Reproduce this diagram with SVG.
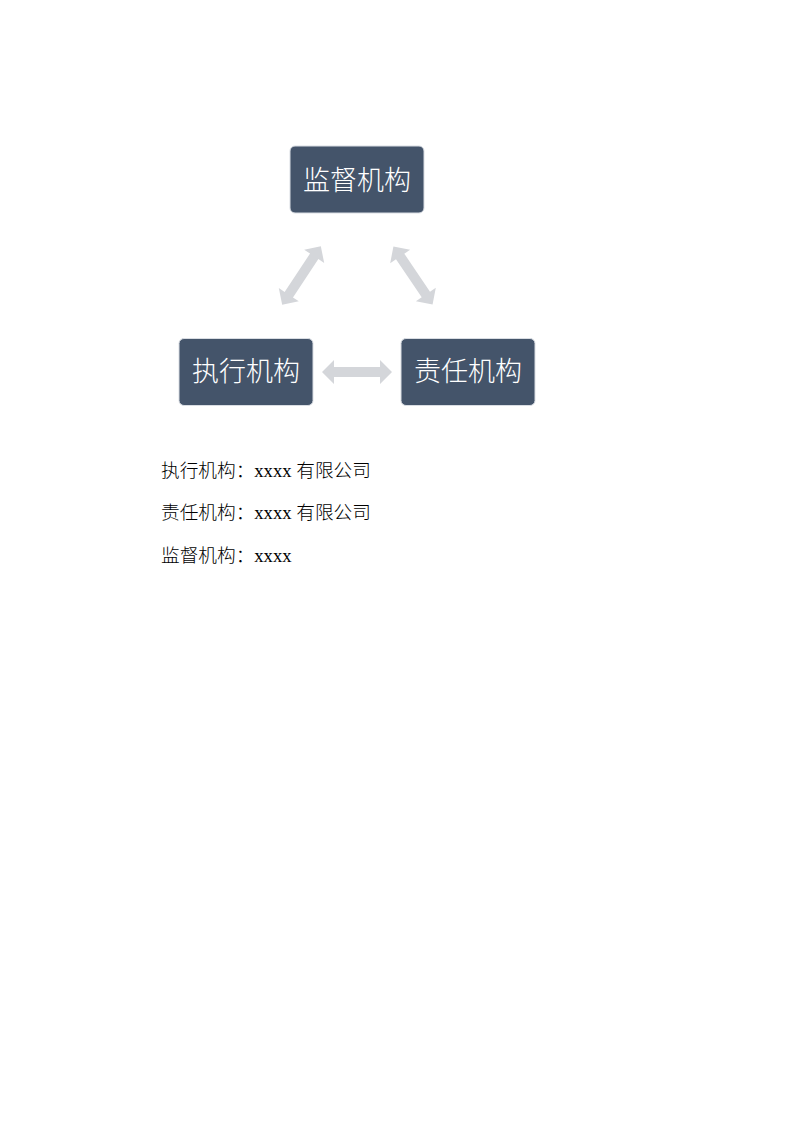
<svg xmlns="http://www.w3.org/2000/svg" width="793" height="1122" viewBox="0 0 793 1122">
<style>
.box{fill:#44546A;stroke:#D9DDE3;stroke-width:1}
.lbl{font-family:"Noto Sans CJK SC","Noto Sans",sans-serif;font-size:27px;font-weight:300;fill:#FFFFFF;text-anchor:middle}
.arr{fill:#D4D6DA}
.body{font-family:"Liberation Serif","Noto Sans CJK SC",serif;font-size:18.67px;font-weight:300;fill:#000000}
</style>
<defs>
<path id="dbl" d="M -35 0 L -23 -12 L -23 -5 L 23 -5 L 23 -12 L 35 0 L 23 12 L 23 5 L -23 5 L -23 12 Z"/>
</defs>
<rect width="793" height="1122" fill="#FFFFFF"/>
<g id="connectors">
<use href="#dbl" class="arr" transform="translate(357,372)"/>
<use href="#dbl" class="arr" transform="translate(301.5,275.5) rotate(-56.5)"/>
<use href="#dbl" class="arr" transform="translate(413,275.5) rotate(56)"/>
</g>
<g id="supervise">
<rect class="box" x="290" y="146" width="134" height="67" rx="5"/>
<text class="lbl" x="357" y="190">监督机构</text>
</g>
<g id="execute">
<rect class="box" x="179" y="338.5" width="134" height="67" rx="5"/>
<text class="lbl" x="246" y="381">执行机构</text>
</g>
<g id="responsible">
<rect class="box" x="401" y="338.5" width="134" height="67" rx="5"/>
<text class="lbl" x="468" y="381">责任机构</text>
</g>
<g id="notes">
<text class="body" x="161" y="477">执行机构：xxxx 有限公司</text>
<text class="body" x="161" y="519">责任机构：xxxx 有限公司</text>
<text class="body" x="161" y="562">监督机构：xxxx</text>
</g>
</svg>
